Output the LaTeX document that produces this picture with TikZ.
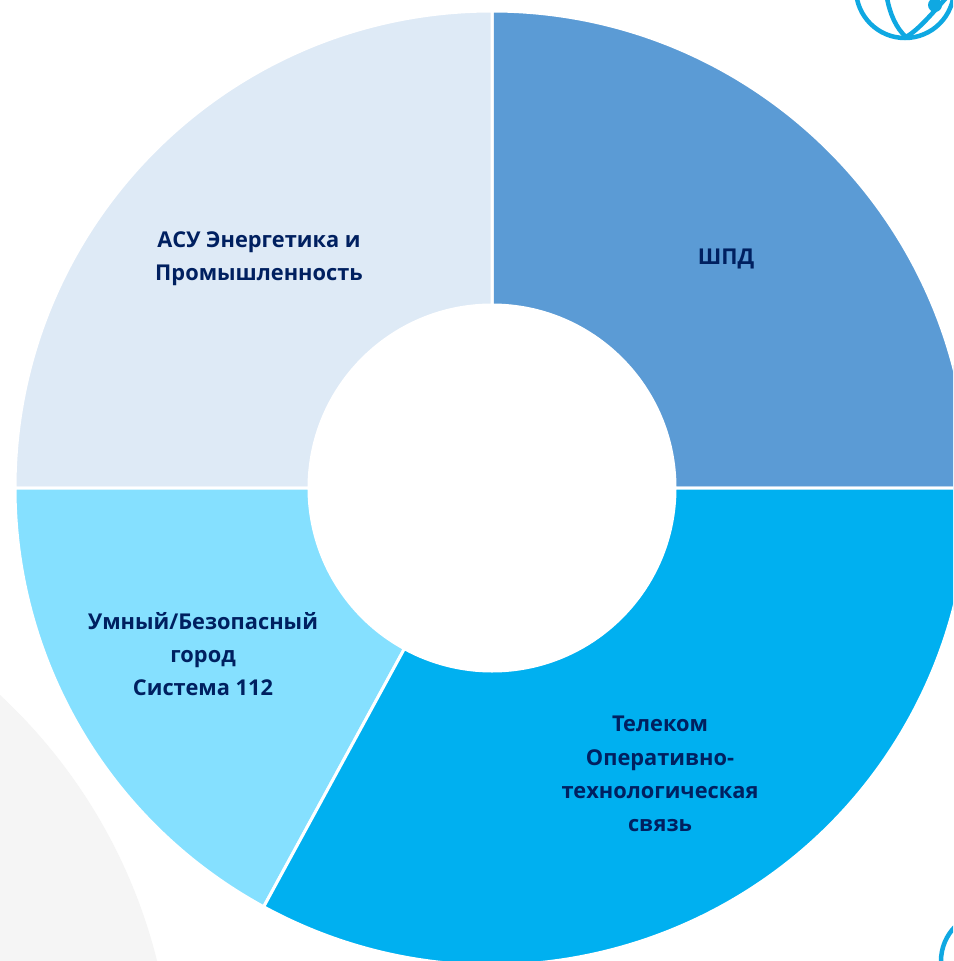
\documentclass[tikz,border=0pt]{standalone}
\usepackage{fontspec}
\setmainfont{Open Sans}
\definecolor{segA}{HTML}{5B9BD5}
\definecolor{segB}{HTML}{00B0F0}
\definecolor{segC}{HTML}{85E0FF}
\definecolor{segD}{HTML}{DEEAF6}
\definecolor{inkc}{HTML}{002060}
\definecolor{logoc}{HTML}{0FA8E2}
\definecolor{bggray}{HTML}{F5F5F5}
\tikzset{
  seg/.style={draw=white,line width=3pt},
  lab/.style={font=\bfseries\fontsize{21.8pt}{33.2pt}\selectfont,text=inkc,align=center,inner sep=0pt},
  logo/.style={draw=logoc,line width=4.5pt}
}
\newcommand{\donut}[3]{% start, end, colour
  \path[seg,fill=#3] ({492+477*cos(#1)},{-488+477*sin(#1)}) arc[start angle=#1,end angle=#2,radius=477]
    -- ({492+183*cos(#2)},{-488+183*sin(#2)}) arc[start angle=#2,end angle=#1,radius=183] -- cycle;}
\begin{document}
\begin{tikzpicture}[x=1pt,y=1pt]
\useasboundingbox (0,0) rectangle (953,-961);
\begin{scope}
\clip (0,0) rectangle (953,-961);
\fill[white] (0,0) rectangle (953,-961);
\fill[bggray] (-369,-1092) circle[radius=542];
\donut{0}{90}{segA}
\donut{90}{180}{segD}
\donut{180}{241.4}{segC}
\donut{241.4}{360}{segB}
% logos
\draw[logo] (905,11) circle[radius=49];
\draw[logo] (906,-37) .. controls (896,-28) and (890,-14) .. (887,2);
\draw[logo] (906,-37) .. controls (918,-30) and (930,-16) .. (946,2);
\fill[logoc] (935,-5) circle[radius=7];
\draw[logo] (990,-961) circle[radius=49];
\end{scope}
\node[lab] (shpd) at (726,-258.5) {ШПД};
\node[lab] (asu) at (259,-258.5) {АСУ Энергетика и\\Промышленность};
\node[lab] (city) at (203,-654) {Умный/Безопасный\\город\\Система 112};
\node[lab] (tel) at (660,-774) {Телеком\\Оперативно-\\технологическая\\связь};
\end{tikzpicture}
\end{document}
